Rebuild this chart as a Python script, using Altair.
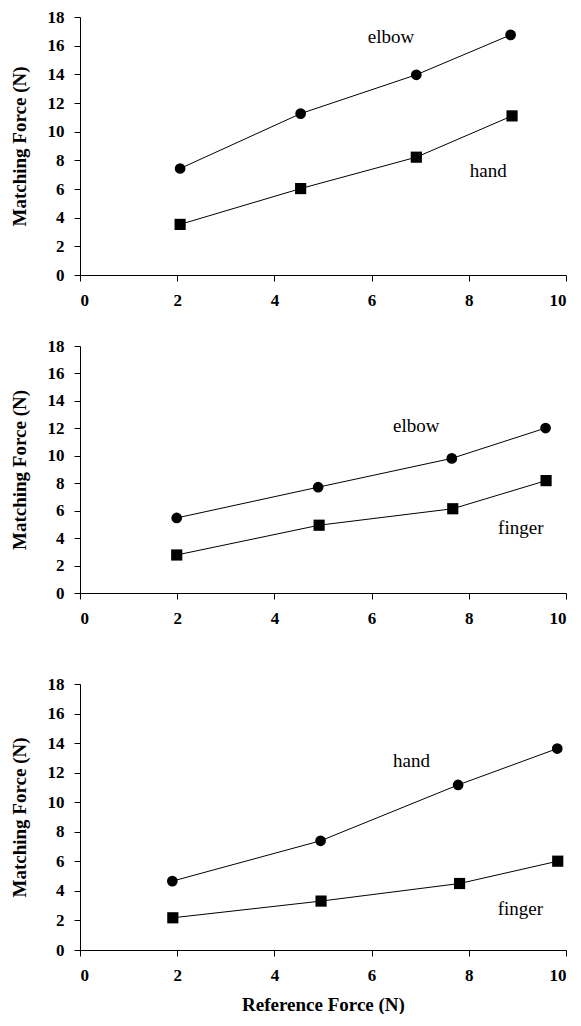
import altair as alt
import pandas as pd

# ---------------- data ----------------
p1_upper_name = "elbow"
p1_upper_x = [2.06, 4.54, 6.92, 8.86]
p1_upper_y = [7.43, 11.26, 13.97, 16.75]
p1_lower_name = "hand"
p1_lower_x = [2.06, 4.54, 6.92, 8.89]
p1_lower_y = [3.53, 6.03, 8.22, 11.10]
p1_label_x = [6.4, 8.4]
p1_label_y = [16.6, 7.24]

p2_upper_name = "elbow"
p2_upper_x = [1.99, 4.90, 7.65, 9.58]
p2_upper_y = [5.47, 7.71, 9.81, 12.02]
p2_lower_name = "finger"
p2_lower_x = [1.99, 4.92, 7.67, 9.59]
p2_lower_y = [2.77, 4.94, 6.14, 8.19]
p2_label_x = [6.92, 9.07]
p2_label_y = [12.17, 4.75]

p3_upper_name = "hand"
p3_upper_x = [1.90, 4.95, 7.78, 9.82]
p3_upper_y = [4.66, 7.39, 11.17, 13.63]
p3_lower_name = "finger"
p3_lower_x = [1.91, 4.96, 7.81, 9.83]
p3_lower_y = [2.18, 3.31, 4.50, 6.01]
p3_label_x = [6.82, 9.06]
p3_label_y = [12.77, 2.75]

x_ticks = [0, 2, 4, 6, 8, 10]
y_ticks = [0, 2, 4, 6, 8, 10, 12, 14, 16, 18]
y_title = "Matching Force (N)"
x_title = "Reference Force (N)"

FONT = "Liberation Serif"


def make_x(show_title):
    kw = dict(
        values=x_ticks,
        tickCount=6,
        labelOverlap=False,
        labelFont=FONT,
        labelFontSize=17,
        labelFontWeight="bold",
        labelColor="black",
        labelPadding=11,
        tickSize=6,
        tickColor="black",
        domainColor="black",
        grid=False,
    )
    if show_title:
        kw.update(title=x_title, titleFont=FONT, titleFontSize=19,
                  titleFontWeight="bold", titleColor="black", titlePadding=12)
    else:
        kw.update(title="")
    return alt.X("x:Q", scale=alt.Scale(domain=[0, 10], nice=False),
                 axis=alt.Axis(**kw))


def make_y():
    return alt.Y(
        "y:Q",
        scale=alt.Scale(domain=[0, 18], nice=False),
        axis=alt.Axis(
            values=y_ticks,
            tickCount=10,
            labelOverlap=False,
            title=y_title,
            labelFont=FONT,
            labelFontSize=17,
            labelFontWeight="bold",
            labelColor="black",
            labelPadding=10,
            tickSize=6,
            tickColor="black",
            domainColor="black",
            grid=False,
            titleFont=FONT,
            titleFontSize=19,
            titleFontWeight="bold",
            titleColor="black",
            titlePadding=18,
        ),
    )


def panel(ux, uy, un, lx, ly, ln, labx, laby, height, show_x_title):
    pts = pd.DataFrame({
        "x": ux + lx,
        "y": uy + ly,
        "series": ["upper"] * len(ux) + ["lower"] * len(lx),
    })
    labels = pd.DataFrame({"x": labx, "y": laby, "text": [un, ln]})

    xenc = make_x(show_x_title)
    yenc = make_y()

    base = alt.Chart(pts).encode(x=xenc, y=yenc)
    line = base.mark_line(color="black", strokeWidth=1).encode(detail="series:N")
    points = base.mark_point(filled=True, color="black", opacity=1).encode(
        shape=alt.Shape(
            "series:N",
            scale=alt.Scale(domain=["upper", "lower"], range=["circle", "square"]),
            legend=None,
        ),
        size=alt.Size(
            "series:N",
            scale=alt.Scale(domain=["upper", "lower"], range=[115, 125]),
            legend=None,
        ),
    )
    text = alt.Chart(labels).mark_text(
        font=FONT, fontSize=19, color="black", align="center", baseline="middle"
    ).encode(x=xenc, y=yenc, text="text:N")

    return alt.layer(line, points, text).properties(width=486, height=height)


c1 = panel(p1_upper_x, p1_upper_y, p1_upper_name, p1_lower_x, p1_lower_y,
           p1_lower_name, p1_label_x, p1_label_y, 258, False)
c2 = panel(p2_upper_x, p2_upper_y, p2_upper_name, p2_lower_x, p2_lower_y,
           p2_lower_name, p2_label_x, p2_label_y, 247, False)
c3 = panel(p3_upper_x, p3_upper_y, p3_upper_name, p3_lower_x, p3_lower_y,
           p3_lower_name, p3_label_x, p3_label_y, 266, True)

chart = alt.vconcat(
    alt.vconcat(c1, c2, spacing=29),
    c3,
    spacing=49,
).properties(
    padding={"left": 2, "top": 0, "right": 0, "bottom": 0},
    background="white",
).configure_view(
    stroke=None
)

chart.save("out.html", embed_options={"renderer": "svg", "actions": False})
